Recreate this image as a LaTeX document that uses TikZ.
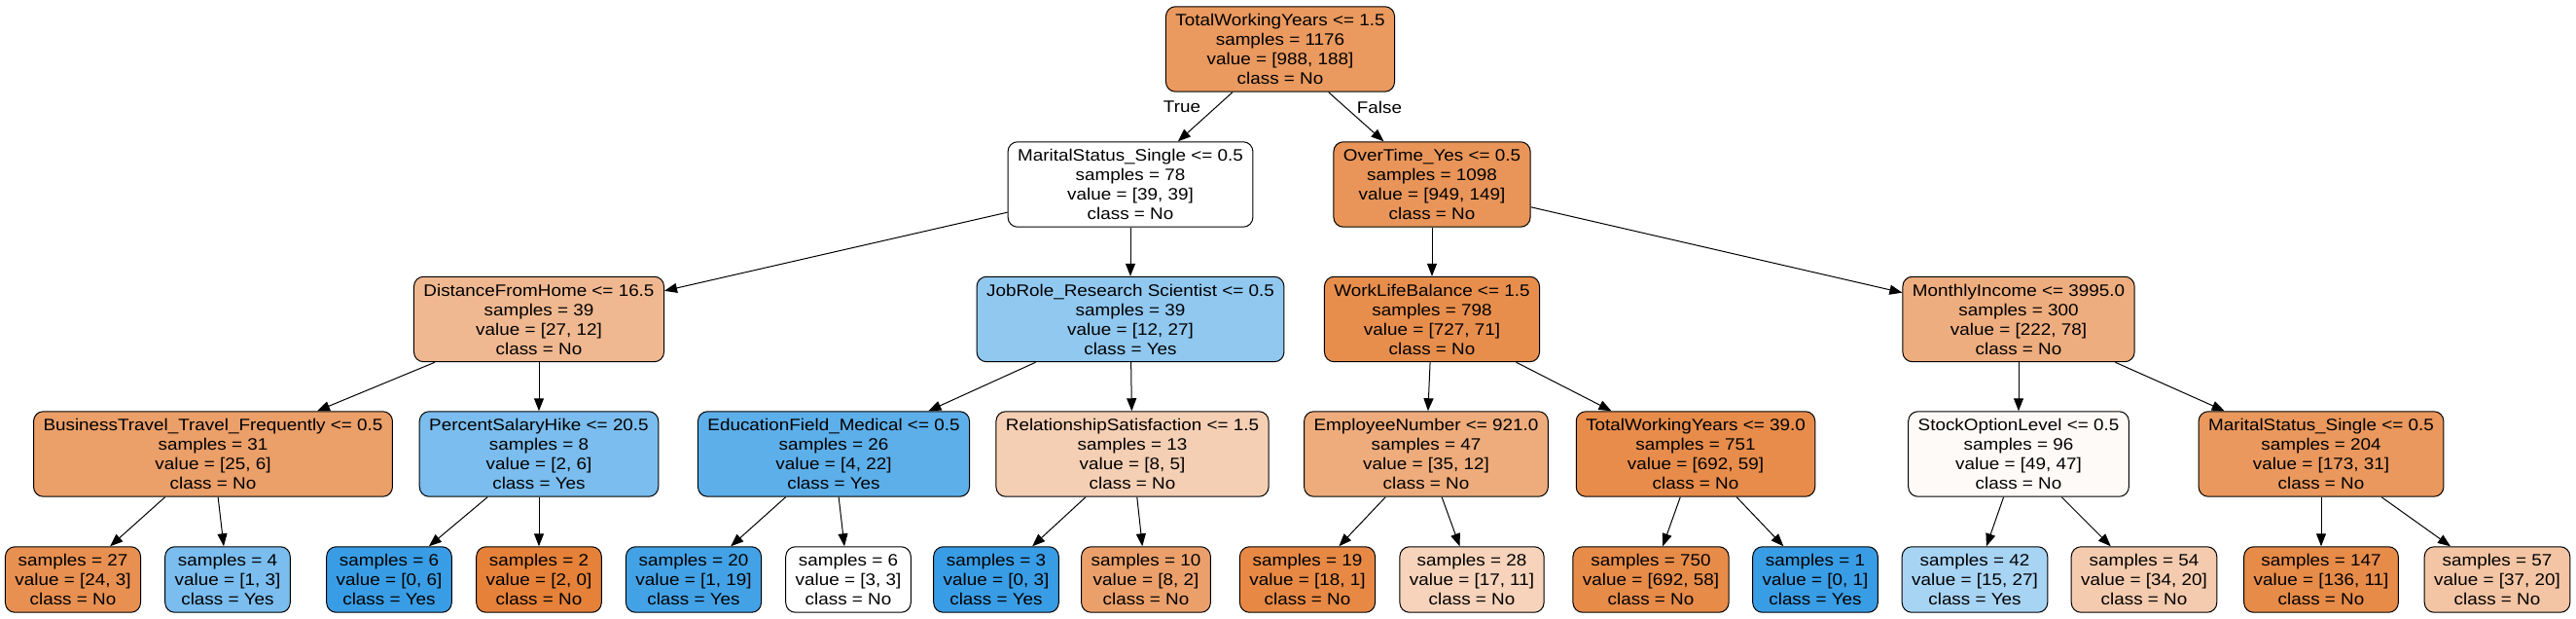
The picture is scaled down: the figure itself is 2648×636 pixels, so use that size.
\documentclass[tikz,border=0pt]{standalone}
\usepackage{fontspec}
\setmainfont{Liberation Sans}[FakeStretch=1.11]
\usepackage{xcolor}
\usetikzlibrary{arrows.meta}
\definecolor{orng}{RGB}{229,129,57}
\definecolor{blu}{RGB}{57,157,229}

\begin{document}
\begin{tikzpicture}[x=1pt,y=1pt,
		tnode/.style={draw=black,line width=1pt,rounded corners=10pt,align=center,
			inner xsep=10pt,inner ysep=7.5pt,font=\fontsize{17}{20}\selectfont},
		link/.style={line width=1pt,-{Triangle[length=13pt,width=10pt]}},
		lbl/.style={font=\fontsize{17}{20}\selectfont}]
			\useasboundingbox (0,0) rectangle (2648,-636);
			% level 0 and 1
			\node[tnode,fill=orng!81] (root) at (1316,-50.5) {TotalWorkingYears <= 1.5\\samples = 1176\\value = [988, 188]\\class = No};
			\node[tnode,fill=white] (ms1) at (1162,-189.5) {MaritalStatus\_Single <= 0.5\\samples = 78\\value = [39, 39]\\class = No};
			\node[tnode,fill=orng!84] (ot) at (1472,-189.5) {OverTime\_Yes <= 0.5\\samples = 1098\\value = [949, 149]\\class = No};
			\node[lbl] (true) at (1215,-110) {True};
			\node[lbl] (false) at (1418,-110) {False};

			% level 2
			\node[tnode,fill=orng!56] (dfh) at (554,-328) {DistanceFromHome <= 16.5\\samples = 39\\value = [27, 12]\\class = No};
			\node[tnode,fill=blu!56] (jr) at (1162,-328) {JobRole\_Research Scientist <= 0.5\\samples = 39\\value = [12, 27]\\class = Yes};
			\node[tnode,fill=orng!90] (wlb) at (1472,-328) {WorkLifeBalance <= 1.5\\samples = 798\\value = [727, 71]\\class = No};
			\node[tnode,fill=orng!65] (mi) at (2075,-328) {MonthlyIncome <= 3995.0\\samples = 300\\value = [222, 78]\\class = No};

			% level 3
			\node[tnode,fill=orng!76] (bt) at (219,-466.5) {BusinessTravel\_Travel\_Frequently <= 0.5\\samples = 31\\value = [25, 6]\\class = No};
			\node[tnode,fill=blu!67] (psh) at (554,-466.5) {PercentSalaryHike <= 20.5\\samples = 8\\value = [2, 6]\\class = Yes};
			\node[tnode,fill=blu!82] (ef) at (857,-466.5) {EducationField\_Medical <= 0.5\\samples = 26\\value = [4, 22]\\class = Yes};
			\node[tnode,fill=orng!38] (rs) at (1164,-466.5) {RelationshipSatisfaction <= 1.5\\samples = 13\\value = [8, 5]\\class = No};
			\node[tnode,fill=orng!66] (en) at (1466,-466.5) {EmployeeNumber <= 921.0\\samples = 47\\value = [35, 12]\\class = No};
			\node[tnode,fill=orng!91] (twy) at (1743,-466.5) {TotalWorkingYears <= 39.0\\samples = 751\\value = [692, 59]\\class = No};
			\node[tnode,fill=orng!4] (sol) at (2075,-466.5) {StockOptionLevel <= 0.5\\samples = 96\\value = [49, 47]\\class = No};
			\node[tnode,fill=orng!82] (ms2) at (2386,-466.5) {MaritalStatus\_Single <= 0.5\\samples = 204\\value = [173, 31]\\class = No};

			% leaves
			\node[tnode,fill=orng!88] (l1) at (75,-595.5) {samples = 27\\value = [24, 3]\\class = No};
			\node[tnode,fill=blu!67] (l2) at (234,-595.5) {samples = 4\\value = [1, 3]\\class = Yes};
			\node[tnode,fill=blu] (l3) at (400,-595.5) {samples = 6\\value = [0, 6]\\class = Yes};
			\node[tnode,fill=orng] (l4) at (554,-595.5) {samples = 2\\value = [2, 0]\\class = No};
			\node[tnode,fill=blu!95] (l5) at (713,-595.5) {samples = 20\\value = [1, 19]\\class = Yes};
			\node[tnode,fill=white] (l6) at (872,-595.5) {samples = 6\\value = [3, 3]\\class = No};
			\node[tnode,fill=blu] (l7) at (1024,-595.5) {samples = 3\\value = [0, 3]\\class = Yes};
			\node[tnode,fill=orng!75] (l8) at (1178,-595.5) {samples = 10\\value = [8, 2]\\class = No};
			\node[tnode,fill=orng!94] (l9) at (1344,-595.5) {samples = 19\\value = [18, 1]\\class = No};
			\node[tnode,fill=orng!35] (l10) at (1513,-595.5) {samples = 28\\value = [17, 11]\\class = No};
			\node[tnode,fill=orng!92] (l11) at (1697,-595.5) {samples = 750\\value = [692, 58]\\class = No};
			\node[tnode,fill=blu] (l12) at (1866,-595.5) {samples = 1\\value = [0, 1]\\class = Yes};
			\node[tnode,fill=blu!44] (l13) at (2030,-595.5) {samples = 42\\value = [15, 27]\\class = Yes};
			\node[tnode,fill=orng!41] (l14) at (2204,-595.5) {samples = 54\\value = [34, 20]\\class = No};
			\node[tnode,fill=orng!92] (l15) at (2386,-595.5) {samples = 147\\value = [136, 11]\\class = No};
			\node[tnode,fill=orng!46] (l16) at (2567,-595.5) {samples = 57\\value = [37, 20]\\class = No};

			% connectors
			\draw[link] (root) -- (ms1);
			\draw[link] (root) -- (ot);
			\draw[link] (ms1) -- (dfh);
			\draw[link] (ms1) -- (jr);
			\draw[link] (ot) -- (wlb);
			\draw[link] (ot) -- (mi);
			\draw[link] (dfh) -- (bt);
			\draw[link] (dfh) -- (psh);
			\draw[link] (jr) -- (ef);
			\draw[link] (jr) -- (rs);
			\draw[link] (wlb) -- (en);
			\draw[link] (wlb) -- (twy);
			\draw[link] (mi) -- (sol);
			\draw[link] (mi) -- (ms2);
			\draw[link] (bt) -- (l1);
			\draw[link] (bt) -- (l2);
			\draw[link] (psh) -- (l3);
			\draw[link] (psh) -- (l4);
			\draw[link] (ef) -- (l5);
			\draw[link] (ef) -- (l6);
			\draw[link] (rs) -- (l7);
			\draw[link] (rs) -- (l8);
			\draw[link] (en) -- (l9);
			\draw[link] (en) -- (l10);
			\draw[link] (twy) -- (l11);
			\draw[link] (twy) -- (l12);
			\draw[link] (sol) -- (l13);
			\draw[link] (sol) -- (l14);
			\draw[link] (ms2) -- (l15);
			\draw[link] (ms2) -- (l16);
		\end{tikzpicture}
\end{document}
